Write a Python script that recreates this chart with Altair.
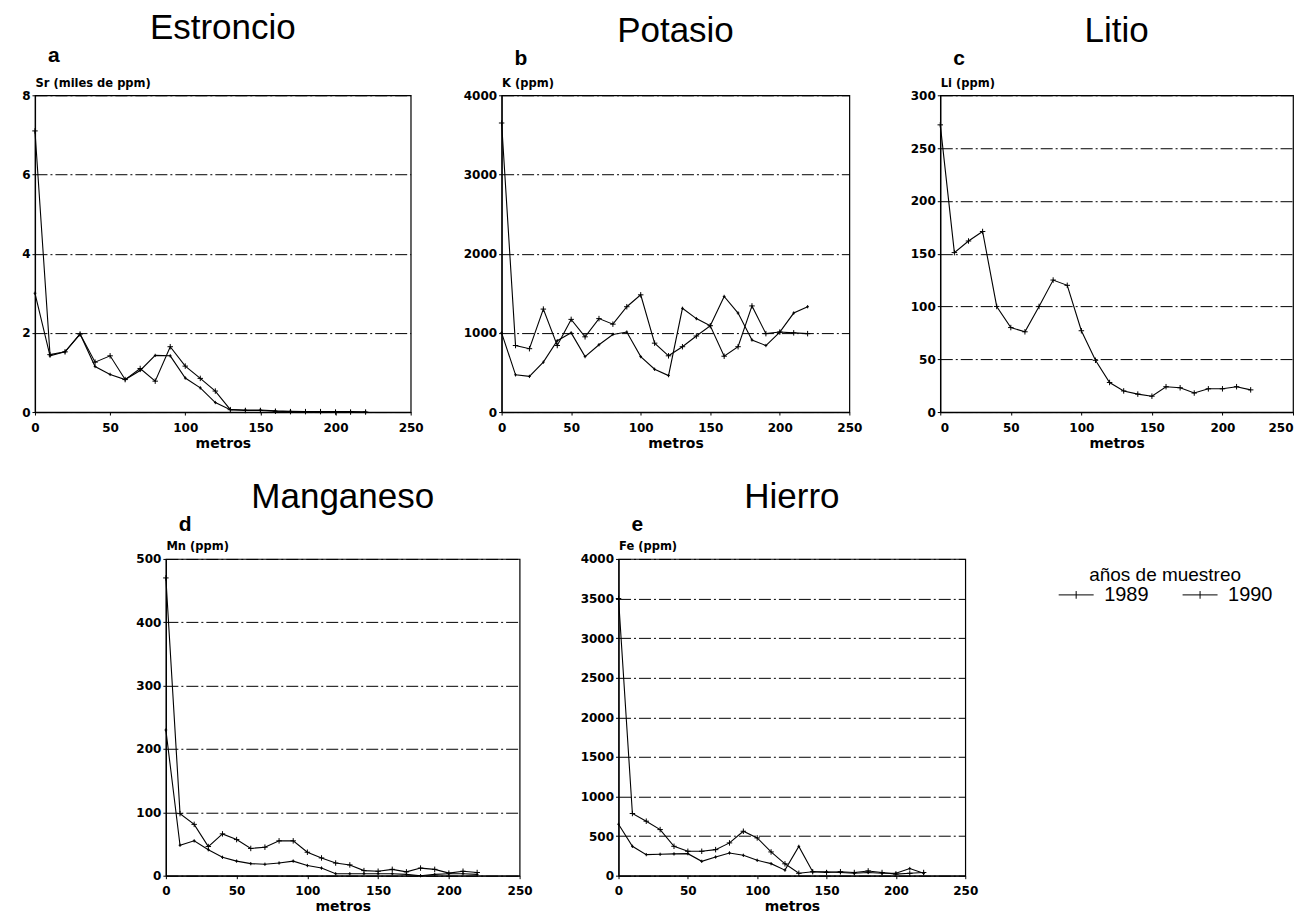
import altair as alt
import pandas as pd

# ---------------- data ----------------
metros = [0, 10, 20, 30, 40, 50, 60, 70, 80, 90, 100, 110,
          120, 130, 140, 150, 160, 170, 180, 190, 200, 210, 220]

# Estroncio, Sr (miles de ppm)
sr_1989 = [3.0, 1.42, 1.52, 1.97, 1.15, 0.95, 0.82, 1.05, 1.43, 1.42, 0.86, 0.61,
           0.24, 0.06, 0.05, 0.05, 0.03, 0.02, 0.01, 0.01, 0.01, 0.01, 0.0]
sr_1990 = [7.1, 1.45, 1.52, 1.97, 1.26, 1.42, 0.82, 1.1, 0.78, 1.65, 1.16, 0.85,
           0.53, 0.06, 0.04, 0.04, 0.02, 0.01, 0.01, 0.01, 0.0, 0.0, 0.0]

# Potasio, K (ppm)
k_1989 = [1000, 470, 450, 630, 900, 1000, 700, 850, 980, 1010, 700, 540,
          460, 1310, 1180, 1090, 1460, 1250, 910, 840, 1010, 1250, 1330]
k_1990 = [3650, 840, 800, 1300, 840, 1170, 950, 1180, 1110, 1330, 1480, 870,
          710, 825, 960, 1090, 705, 825, 1340, 990, 1010, 1000, 990]

# Litio, Li (ppm)
li_1990 = [272, 151, 162, 171, 100, 80, 76, 100, 125, 120, 77, 49,
           28, 20, 17, 15, 24, 23, 18, 22, 22, 24, 21]

# Manganeso, Mn (ppm)
mn_1989 = [230, 48, 55, 41, 29, 23, 19, 18, 20, 23, 16, 12,
           3, 3, 3, 3, 3, 2, 0, 2, 3, 3, 2]
mn_1990 = [470, 98, 81, 46, 66, 57, 43, 45, 55, 55, 37, 28,
           20, 17, 8, 7, 10, 6, 12, 10, 4, 7, 5]

# Hierro, Fe (ppm)
fe_1989 = [650, 371, 266, 270, 275, 278, 181, 236, 287, 257, 194, 152,
           70, 370, 50, 50, 40, 30, 40, 30, 30, 90, 30]
fe_1990 = [3500, 785, 688, 582, 371, 308, 308, 329, 414, 561, 477, 300,
           150, 30, 50, 40, 50, 40, 60, 40, 20, 30, 40]

years = ["1989", "1990"]
x_ticks = [0, 50, 100, 150, 200, 250]

NUM_FONT = "DejaVu Sans"
TXT_FONT = "Liberation Sans"

MARKERS = {"1989": "M-0.5,0H0.5M0,-0.6V0.6", "1990": "M-1,0H1M0,-1V1"}


def make_df(v89, v90):
    rows = []
    for yr, vals in (("1989", v89), ("1990", v90)):
        if vals is None:
            continue
        for m, v in zip(metros, vals):
            rows.append({"metros": m, "valor": v, "anio": yr})
    return pd.DataFrame(rows)


legend = alt.Legend(
    title="años de muestreo",
    orient="none",
    legendX=1024,
    legendY=471,
    direction="horizontal",
    padding=0,
    titleFont=TXT_FONT,
    titleFontSize=19,
    titleFontWeight="normal",
    titleColor="black",
    titleAnchor="middle",
    titlePadding=-8,
    labelFont=TXT_FONT,
    labelFontSize=20,
    labelColor="black",
    labelOffset=10,
    symbolType="M-1,0H1M0,-0.22V0.22",
    symbolSize=1225,
    symbolStrokeWidth=1,
    symbolStrokeColor="black",
    columnPadding=31,
)


def panel(name, letter, letter_dy, ytitle, ymax, ystep, v89, v90, w, h, flush=False):
    df = make_df(v89, v90)
    yvals = list(range(0, ymax + 1, ystep))
    x = alt.X("metros:Q",
              scale=alt.Scale(domain=[0, 250], nice=False, zero=True),
              axis=alt.Axis(values=x_ticks, title="metros", grid=False, format="d",
                            labelFlush=flush, labelFont=NUM_FONT, labelFontSize=12,
                            labelFontWeight="bold", labelPadding=7, tickSize=3,
                            titleFont=NUM_FONT, titleFontSize=14, titleFontWeight="bold",
                            titlePadding=3))
    y = alt.Y("valor:Q",
              scale=alt.Scale(domain=[0, ymax], nice=False),
              axis=alt.Axis(values=yvals, title=ytitle, grid=True, format="d",
                            gridDash=[12, 3, 2, 3], gridColor="black", gridWidth=1,
                            labelFont=NUM_FONT, labelFontSize=12, labelFontWeight="bold",
                            labelPadding=2, tickSize=3,
                            titleAngle=0, titleAlign="left", titleBaseline="alphabetic",
                            titleX=0, titleY=-9, titleFont=NUM_FONT, titleFontSize=11.5,
                            titleFontWeight="bold"))
    base = alt.Chart(df)
    lines = base.mark_line(strokeWidth=1.1).encode(
        x=x, y=y,
        color=alt.Color("anio:N", scale=alt.Scale(domain=years, range=["black", "black"]),
                        legend=legend),
    )
    layers = [lines]
    for yr in years:
        layers.append(
            base.transform_filter(alt.datum.anio == yr).mark_point(
                shape=MARKERS[yr], filled=False, stroke="black", strokeWidth=1,
                size=30, opacity=1,
            ).encode(x=x, y=y)
        )
    lab = alt.Chart(pd.DataFrame({"t": [letter]})).mark_text(
        align="left", baseline="alphabetic", font=TXT_FONT, fontSize=21,
        fontWeight="bold", color="black",
    ).encode(x=alt.value(13), y=alt.value(letter_dy), text="t:N")
    layers.append(lab)
    return alt.layer(*layers).properties(
        width=w, height=h,
        title=alt.TitleParams(name, font=TXT_FONT, fontSize=35, fontWeight="normal",
                              color="black", anchor="middle", frame="group",
                              baseline="alphabetic", offset=-29),
    )


pa = panel("Estroncio", "a", -33, "Sr (miles de ppm)", 8, 2, sr_1989, sr_1990, 376, 317)
pb = panel("Potasio", "b", -30, "K (ppm)", 4000, 1000, k_1989, k_1990, 348, 317)
pc = panel("Litio", "c", -30, "Li (ppm)", 300, 50, None, li_1990, 353, 317, flush=True)
pd_ = panel("Manganeso", "d", -28, "Mn (ppm)", 500, 100, mn_1989, mn_1990, 354, 317)
pe = panel("Hierro", "e", -28, "Fe (ppm)", 4000, 500, fe_1989, fe_1990, 347, 317)

spacer = alt.Chart(pd.DataFrame({"a": [0]})).mark_point(opacity=0).properties(
    width=32, height=317, view=alt.ViewBackground(stroke="transparent"))

top = alt.hconcat(pa, pb, pc, spacing=91, bounds="flush")
bottom = alt.hconcat(spacer, pd_, pe, spacing=99, bounds="flush")

chart = alt.vconcat(top, bottom, spacing=28).properties(
    padding={"left": 13, "top": 2, "right": 1, "bottom": 5},
    background="white",
).configure_view(
    stroke="black", strokeWidth=1.2
).configure_axis(
    domainColor="black", tickColor="black", labelColor="black", titleColor="black",
    domainWidth=1.2,
)

chart.save("out.html", embed_options={"renderer": "svg", "actions": False})
